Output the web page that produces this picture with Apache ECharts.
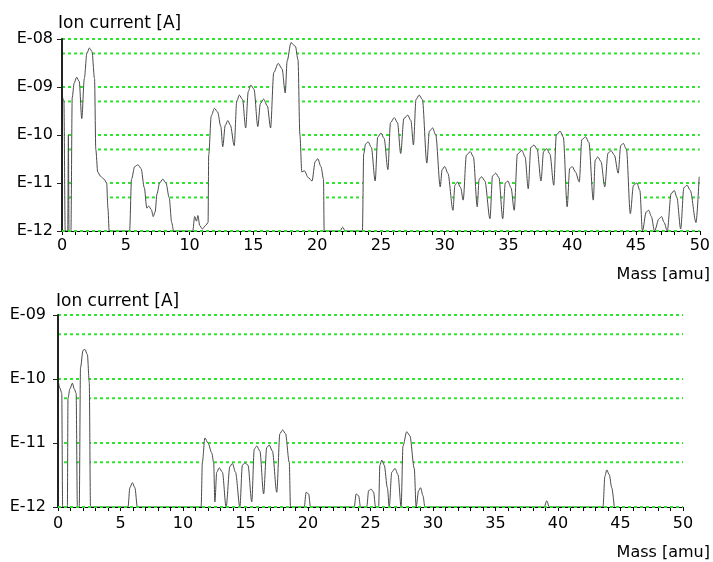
<!DOCTYPE html>
<html>
<head>
<meta charset="utf-8">
<script src="https://cdn.jsdelivr.net/npm/echarts@6/dist/echarts.min.js"></script>
<style>html,body{margin:0;padding:0;background:#fff;}#c{width:713px;height:562px;}</style>
</head>
<body>
<div id="c"></div>
<script>
// ---- data ----
const yTitle = 'Ion current [A]';
const xTitle = 'Mass [amu]';
const xTickLabels = ['0','5','10','15','20','25','30','35','40','45','50'];
const topGridLevels = [1e-8,5e-9,1e-9,5e-10,1e-10,5e-11,1e-11,5e-12];
const bottomGridLevels = [1e-9,5e-10,1e-10,5e-11,1e-11,5e-12];
const baseLevel = [1e-12];

const topMass = [0,0.15,0.25,0.45,0.5,0.55,0.7,0.8,0.95,1.15,1.35,1.55,1.75,1.95,2.15,2.35,2.55,2.65,2.8,3.0,3.3,3.5,3.6,3.7,
5.3,5.45,5.7,5.95,6.2,6.45,6.65,6.8,7.0,7.15,7.3,7.45,7.65,7.9,8.15,8.4,8.6,8.75,
10.25,10.4,10.55,10.65,10.8,11.0,11.25,11.45,11.5,11.7,11.95,12.2,12.45,12.6,12.8,13.0,13.2,13.5,13.7,13.9,14.15,14.4,14.6,14.8,15.05,15.35,15.55,15.8,16.1,16.35,16.6,16.95,17.25,17.5,17.65,17.95,18.3,18.5,18.65,18.8,19.0,19.3,19.6,19.85,20.05,20.3,20.5,20.55,
21.8,22.0,22.2,
23.55,23.65,23.8,24.0,24.25,24.55,24.75,25.0,25.25,25.55,25.75,26.05,26.3,26.55,26.8,27.1,27.35,27.55,27.75,28.0,28.25,28.6,28.8,29.05,29.3,29.65,29.8,30.0,30.25,30.65,30.8,31.0,31.25,31.45,31.7,32.0,32.25,32.55,32.7,32.9,33.15,33.55,33.75,34.0,34.25,34.55,34.75,34.95,35.2,35.45,35.7,36.05,36.3,36.55,36.75,37.0,37.25,37.55,37.75,38.0,38.25,38.55,38.75,39.05,39.3,39.6,39.8,40.0,40.25,40.55,40.75,41.05,41.3,41.65,41.8,42.0,42.25,42.55,42.8,43.05,43.3,43.6,43.8,44.0,44.25,44.55,44.8,45.07,45.3,45.5,45.8,46.0,46.2,46.45,46.8,47.0,47.2,47.45,47.75,48.0,48.2,48.5,48.75,49.0,49.25,49.7,49.95];
const topCurrent = [7e-10,5e-10,1e-12,1e-12,1e-10,1e-12,1e-12,6e-10,1.2e-9,1.6e-9,1.3e-9,2.2e-10,1.5e-9,5e-9,6.5e-9,5.5e-9,1.5e-9,5e-11,1.7e-11,1.4e-11,1.2e-11,1e-11,3e-12,1e-12,
1e-12,1.2e-11,2.2e-11,2.4e-11,2e-11,8e-12,3e-12,3.3e-12,2.8e-12,2e-12,2.5e-12,6e-12,1e-11,1.2e-11,1e-11,5e-12,1.5e-12,1e-12,
1e-12,2e-12,1.6e-12,2.1e-12,1.3e-12,1.1e-12,1.3e-12,1.5e-12,3.8e-11,2.5e-10,3.6e-10,3e-10,1.5e-10,5.7e-11,1.6e-10,2e-10,1.6e-10,6e-11,5e-10,6.8e-10,5.5e-10,1.4e-10,8e-10,1.1e-9,9e-10,1.5e-10,4.5e-10,5.6e-10,4e-10,1.4e-10,2e-9,3.1e-9,2.4e-9,7.5e-10,3.5e-9,8.4e-9,7e-9,3.7e-9,1e-10,1.7e-11,1.8e-11,1.3e-11,1.1e-11,2.8e-11,3.2e-11,2.2e-11,1.2e-11,1e-12,
1e-12,1.2e-12,1e-12,
1e-12,4e-11,6.5e-11,7.2e-11,5.5e-11,1.1e-11,9e-11,1.1e-10,8.5e-11,1.9e-11,1.8e-10,2.3e-10,1.8e-10,4.1e-11,2.2e-10,2.6e-10,2e-10,6.2e-11,5.5e-10,6.8e-10,5.5e-10,2.6e-11,1.2e-10,1.4e-10,1e-10,8.3e-12,1.9e-11,2.2e-11,1.6e-11,2.7e-12,9e-12,1.05e-11,8e-12,4.4e-12,3.8e-11,4.5e-11,3.5e-11,3.2e-12,1.2e-11,1.35e-11,1.1e-11,1.8e-12,1.4e-11,1.6e-11,1.3e-11,1.8e-12,1e-11,1.1e-11,8e-12,2.7e-12,4e-11,4.8e-11,3.5e-11,7.6e-12,5.5e-11,6.2e-11,5e-11,1.1e-11,4.5e-11,5.2e-11,4e-11,9e-12,1e-10,1.2e-10,9e-11,3.2e-12,2e-11,2.2e-11,1.7e-11,1.05e-11,8e-11,9.2e-11,7e-11,4.4e-12,3e-11,3.5e-11,2.8e-11,8.3e-12,4.2e-11,4.7e-11,3.8e-11,1.6e-11,6e-11,6.7e-11,5e-11,2.3e-12,9e-12,1e-11,7e-12,1e-12,2.5e-12,2.7e-12,2e-12,1e-12,1.8e-12,2e-12,1.5e-12,1e-12,6e-12,7e-12,5e-12,1.1e-12,8e-12,9e-12,7e-12,1.5e-12,1.35e-11];

const bottomMass = [0,0.15,0.3,0.37,0.75,0.8,0.95,1.15,1.3,1.45,1.55,1.7,1.8,2.0,2.15,2.35,2.5,2.6,
5.6,5.75,5.95,6.15,6.35,
11.45,11.55,11.75,12.0,12.3,12.45,12.55,12.7,12.9,13.15,13.45,13.75,13.95,14.2,14.55,14.75,14.96,15.2,15.5,15.7,15.9,16.15,16.45,16.7,16.9,17.15,17.5,17.75,17.97,18.2,18.5,18.6,
19.7,19.85,20.05,20.2,
23.7,23.85,24.05,24.2,24.7,24.85,25.05,25.25,25.4,25.65,25.75,25.9,26.1,26.35,26.5,26.7,26.96,27.2,27.45,27.6,27.9,28.15,28.5,28.65,28.85,29.0,29.2,29.35,
38.9,39.1,39.3,
43.6,43.75,43.9,44.1,44.3,44.5];
const bottomCurrent = [9.7e-11,7.2e-11,6e-11,1e-12,1e-12,5e-11,7e-11,8.6e-11,7e-11,6e-11,1e-12,1e-12,1.5e-10,2.8e-10,2.9e-10,2.4e-10,9e-11,1e-12,
1e-12,2e-12,2.4e-12,2e-12,1e-12,
1e-12,5e-12,1.2e-11,1e-11,7e-12,5e-12,1.2e-12,3.5e-12,4.1e-12,3.5e-12,1e-12,4.3e-12,4.8e-12,3.5e-12,1e-12,4.5e-12,4.9e-12,4.5e-12,1.2e-12,8e-12,9e-12,7.5e-12,1.6e-12,8.5e-12,9.3e-12,7.5e-12,1.7e-12,1.4e-11,1.6e-11,1.4e-11,5e-12,1e-12,
1e-12,1.7e-12,1.6e-12,1e-12,
1e-12,1.6e-12,1.5e-12,1e-12,1e-12,1.8e-12,1.9e-12,1.7e-12,1e-12,1e-12,4.5e-12,5.4e-12,4.5e-12,2e-12,1e-12,3.5e-12,4e-12,3.2e-12,1e-12,9e-12,1.5e-11,1.3e-11,4e-12,1e-12,1.8e-12,2e-12,1.5e-12,1e-12,
1e-12,1.25e-12,1e-12,
1e-12,3e-12,3.8e-12,3.2e-12,2e-12,1e-12];

// ---- chart ----
const FONT = 'DejaVu Sans';
const GREEN = '#2fe32f';
function expLabel(v){
  const e = Math.round(Math.log10(v));
  const a = Math.abs(e);
  return 'E' + (e < 0 ? '-' : '+') + (a < 10 ? '0' + a : '' + a);
}
function pairs(xs, ys){ return xs.map((x,i)=>[x, ys[i]]); }
function xAxisCfg(gridIndex){
  return {
    type:'value', gridIndex, min:0, max:50, interval:1,
    axisLine:{show:true, lineStyle:{color:'#000', width:1}},
    axisTick:{show:true, length:4, lineStyle:{color:'#000'}},
    axisLabel:{color:'#000', fontFamily:FONT, fontSize:16, margin:gridIndex===0?7:9,
      formatter:v=>{ const s = String(Math.round(v)); return xTickLabels.indexOf(s) >= 0 && v % 5 === 0 ? s : ''; }},
    splitLine:{show:false}, z:10
  };
}
function yAxisCfg(gridIndex, min, max, margin){
  return {
    type:'log', logBase:10, gridIndex, min, max,
    axisLine:{show:true, lineStyle:{color:'#222', width:2}},
    axisTick:{show:true, length:5, lineStyle:{color:'#222'}},
    axisLabel:{color:'#000', fontFamily:FONT, fontSize:16, margin, formatter:expLabel},
    splitLine:{show:false}, z:10
  };
}
function gridLines(idx, levels, z){
  return levels.map(v => ({
    type:'line', xAxisIndex:idx, yAxisIndex:idx, silent:true, z, clip:false,
    data:[[0, v],[50, v]],
    showSymbol:false, symbol:'none',
    lineStyle:{color:GREEN, type:[3,3], width:2},
    emphasis:{disabled:true}
  }));
}
function specSeries(idx, data){
  return {
    type:'line', xAxisIndex:idx, yAxisIndex:idx, data, showSymbol:false, symbol:'none',
    smooth:0.3, smoothMonotone:'x', clip:true, z:5,
    lineStyle:{color:'#4a4a4a', width:1},
    areaStyle:{color:'#ffffff', opacity:1, origin:'start'}
  };
}
const chart = echarts.init(document.getElementById('c'), null, {renderer:'canvas'});
chart.setOption({
  animation:false,
  backgroundColor:'#fff',
  grid:[
    {left:62, right:9, top:39, height:192},
    {left:58, right:30, top:315, height:192}
  ],
  xAxis:[xAxisCfg(0), xAxisCfg(1)],
  yAxis:[yAxisCfg(0, 1e-12, 1e-8, 9), yAxisCfg(1, 1e-12, 1e-9, 12)],
  series:[].concat(
    gridLines(0, topGridLevels, 1),
    gridLines(1, bottomGridLevels, 1),
    [specSeries(0, pairs(topMass, topCurrent)), specSeries(1, pairs(bottomMass, bottomCurrent))],
    gridLines(0, baseLevel, 20),
    gridLines(1, baseLevel, 20)
  ),
  graphic:[
    {type:'text', left:58, top:15, style:{text:yTitle, font:'17px "DejaVu Sans"', fill:'#000'}},
    {type:'text', left:56, top:293, style:{text:yTitle, font:'17px "DejaVu Sans"', fill:'#000'}},
    {type:'text', right:3, top:267, style:{text:xTitle, font:'16px "DejaVu Sans"', fill:'#000'}},
    {type:'text', right:3, top:545, style:{text:xTitle, font:'16px "DejaVu Sans"', fill:'#000'}}
  ]
});
</script>
</body>
</html>
